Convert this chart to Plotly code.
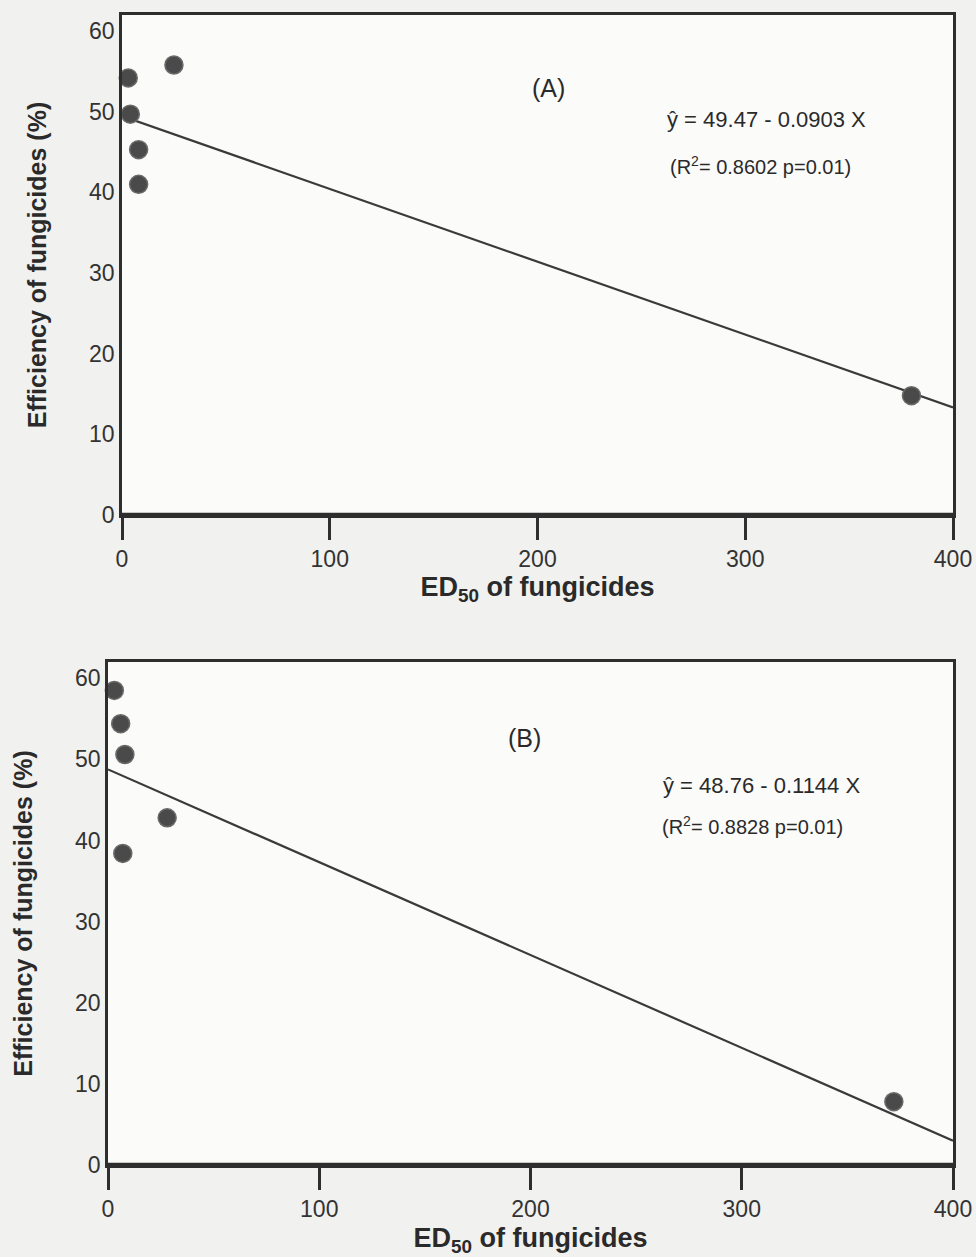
import plotly.graph_objects as go

# ---- data ----
a_ed50 = [3, 25, 4, 8, 8, 380]
a_eff = [54.2, 55.8, 49.7, 45.3, 41.0, 14.8]
a_intercept, a_slope = 49.47, -0.0903

b_ed50 = [3, 6, 8, 28, 7, 372]
b_eff = [58.5, 54.4, 50.6, 42.8, 38.4, 7.8]
b_intercept, b_slope = 48.76, -0.1144

x_ticks = [0, 100, 200, 300, 400]
y_ticks = [0, 10, 20, 30, 40, 50, 60]
line_x = [0, 400]

W, H = 976, 1257
FONT = "Liberation Sans"
INK = "#2e2e2e"

def px_x(p):
    return p / W

def px_y(p):
    return 1 - p / H

fig = go.Figure()

for i, (xs, ys, b0, b1) in enumerate([(a_ed50, a_eff, a_intercept, a_slope),
                                       (b_ed50, b_eff, b_intercept, b_slope)]):
    xa = "x" if i == 0 else "x2"
    ya = "y" if i == 0 else "y2"
    fig.add_trace(go.Scatter(x=line_x, y=[b0 + b1 * v for v in line_x], mode="lines",
                             line=dict(color="#3a3a3a", width=2.2), xaxis=xa, yaxis=ya,
                             showlegend=False, hoverinfo="skip", cliponaxis=False))
    fig.add_trace(go.Scatter(x=xs, y=ys, mode="markers",
                             marker=dict(size=18, color="#4a4a4a", line=dict(color="#6a6a6a", width=1.5)),
                             xaxis=xa, yaxis=ya, showlegend=False, cliponaxis=False))

axis_common = dict(showline=True, linecolor=INK, linewidth=2.5, mirror=True,
                   showgrid=False, zeroline=False, automargin=False,
                   tickfont=dict(family=FONT, size=23, color="#333333"))

title_x = dict(family=FONT, size=27, color="#2a2a2a")
title_y = dict(family=FONT, size=25, color="#2a2a2a")

fig.update_layout(
    width=W, height=H, autosize=False,
    margin=dict(l=0, r=0, t=0, b=0, autoexpand=False),
    paper_bgcolor="#f1f1ef",
    plot_bgcolor="#fbfbfa",
    xaxis=dict(domain=[px_x(122), px_x(953)], range=[0, 400], tickvals=x_ticks,
               ticks="outside", ticklen=22, tickwidth=2.5, tickcolor=INK, anchor="y",
               title=dict(text="<b>ED<sub>50</sub> of fungicides</b>", font=title_x, standoff=6),
               **axis_common),
    yaxis=dict(domain=[px_y(515), px_y(15)], range=[0, 62], tickvals=y_ticks,
               ticks="", anchor="x",
               title=dict(text="<b>Efficiency of fungicides (%)</b>", font=title_y, standoff=36),
               **axis_common),
    xaxis2=dict(domain=[px_x(108), px_x(953)], range=[0, 400], tickvals=x_ticks,
                ticks="outside", ticklen=22, tickwidth=2.5, tickcolor=INK, anchor="y2",
                title=dict(text="<b>ED<sub>50</sub> of fungicides</b>", font=title_x, standoff=10),
                **axis_common),
    yaxis2=dict(domain=[px_y(1165), px_y(662)], range=[0, 62], tickvals=y_ticks,
                ticks="", anchor="x2",
                title=dict(text="<b>Efficiency of fungicides (%)</b>", font=title_y, standoff=36),
                **axis_common),
)

# thicker bottom axis lines
for xr, yr in [("x domain", "y"), ("x2 domain", "y2")]:
    fig.add_shape(type="line", xref=xr, yref=yr, x0=0, x1=1, y0=0, y1=0,
                  line=dict(color=INK, width=4.5))

def ann(text, xd, yd, xref, yref, size, anchor="center"):
    fig.add_annotation(text=text, x=xd, y=yd, xanchor=anchor, yanchor="middle",
                       xref=xref, yref=yref, showarrow=False,
                       font=dict(family=FONT, size=size, color="#2a2a2a"))

ann("(A)", 0.513, 0.854, "x domain", "y domain", 25)
ann("ŷ = 49.47 - 0.0903 X", 0.653, 0.79, "x domain", "y domain", 22, "left")
ann("(R<sup>2</sup>= 0.8602 p=0.01)", 0.657, 0.70, "x domain", "y domain", 20, "left")

ann("(B)", 0.493, 0.849, "x2 domain", "y2 domain", 25)
ann("ŷ = 48.76 - 0.1144 X", 0.655, 0.755, "x2 domain", "y2 domain", 22, "left")
ann("(R<sup>2</sup>= 0.8828 p=0.01)", 0.653, 0.674, "x2 domain", "y2 domain", 20, "left")

fig.write_html("out.html",
               config={"responsive": False, "displayModeBar": False},
               post_script=("document.body.style.margin='0';"
                            "document.body.style.overflow='hidden';"
                            "document.documentElement.style.overflow='hidden';"))
